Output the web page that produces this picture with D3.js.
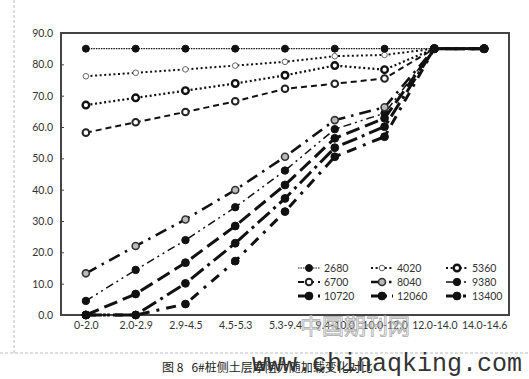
<!DOCTYPE html>
<html><head><meta charset="utf-8">
<script src="https://cdn.jsdelivr.net/npm/d3@7"></script>
<style>body{margin:0;background:#fff}svg{display:block}</style>
</head><body>
<script>
const categories = ["0-2.0","2.0-2.9","2.9-4.5","4.5-5.3","5.3-9.4","9.4-10.0","10.0-12.0","12.0-14.0","14.0-14.6"];
const seriesNames = ["2680","4020","5360","6700","8040","9380","10720","12060","13400"];
const s2680  = [85,85,85,85,85,85,85,85,85];
const s4020  = [76.2,77.3,78.4,79.6,80.8,82.6,83.0,85,85];
const s5360  = [67.0,69.3,71.6,73.9,76.5,79.6,78.3,85,85];
const s6700  = [58.2,61.5,64.8,68.2,72.2,73.8,75.5,85,85];
const s8040  = [13.3,22.0,30.5,39.9,50.5,62.2,66.3,85,85];
const s9380  = [4.5,14.4,23.9,34.4,46.1,59.3,64.4,85,85];
const s10720 = [0,6.7,16.7,28.4,41.5,56.4,62.8,85,85];
const s12060 = [0,0,10.1,22.9,37.2,53.4,60.1,85,85];
const s13400 = [0,0,3.5,17.2,33.0,50.5,56.9,85,85];
const yTicks = [0,10,20,30,40,50,60,70,80,90];
const caption = "图 8   6#桩侧土层摩阻力随加载变化对比";

const allSeries = [s2680,s4020,s5360,s6700,s8040,s9380,s10720,s12060,s13400];
const styles = [
  {w:1.2, dash:"1.5,1",      mk:{r:3.5, fill:"#111", stroke:"#111", sw:1}},
  {w:2,   dash:"2,2.6",      mk:{r:2.8, fill:"#fff", stroke:"#666", sw:1}},
  {w:2.2, dash:"2,2.6",      mk:{r:3.3, fill:"#fff", stroke:"#111", sw:2.4}},
  {w:2,   dash:"6,4",        mk:{r:3.3, fill:"#fff", stroke:"#222", sw:2}},
  {w:2.6, dash:"12,6,2.5,6", mk:{r:3.5, fill:"#bbb", stroke:"#333", sw:1.6}},
  {w:1.5, dash:"8,4,2,4,2,4",mk:{r:3.7, fill:"#111", stroke:"#111", sw:1}},
  {w:3,   dash:"14,6",       mk:{r:3.9, fill:"#111", stroke:"#111", sw:1}},
  {w:3,   dash:"16,5,3,5",   mk:{r:3.9, fill:"#111", stroke:"#111", sw:1}},
  {w:3,   dash:"10,7,3,7",   mk:{r:3.9, fill:"#111", stroke:"#111", sw:1}}
];

const W=529,H=379;
const svg=d3.select("body").append("svg").attr("width",W).attr("height",H);
const L=61,R=509,T=33,B=315;
const x=d3.scalePoint().domain(categories).range([L,R]).padding(0.5);
const y=d3.scaleLinear().domain([0,90]).range([B,T]);

// page decorations
svg.append("line").attr("x1",14).attr("x2",14).attr("y1",0).attr("y2",353)
  .attr("stroke","#bbb").attr("stroke-dasharray","3,2");
svg.append("line").attr("x1",0).attr("x2",W).attr("y1",353).attr("y2",353)
  .attr("stroke","#bbb").attr("stroke-dasharray","3,2");

// y axis
const ya=svg.append("g").attr("transform",`translate(${L},0)`)
  .call(d3.axisLeft(y).tickValues(yTicks).tickFormat(d3.format(".1f")).tickSize(-3).tickPadding(8));
ya.select(".domain").remove();
ya.selectAll("line").attr("stroke","#444");
ya.selectAll("text").attr("font-family","Lato, 'Liberation Sans', sans-serif").attr("font-size","10.5px").attr("fill","#333");

// x axis
const xa=svg.append("g").attr("transform",`translate(0,${B})`)
  .call(d3.axisBottom(x).tickSize(0).tickPadding(7));
xa.select(".domain").remove();
xa.selectAll("text").attr("font-family","Lato, 'Liberation Sans', sans-serif").attr("font-size","10.5px").attr("fill","#333");

// frame
svg.append("rect").attr("x",L).attr("y",T).attr("width",R-L).attr("height",B-T)
  .attr("fill","none").attr("stroke","#444").attr("stroke-width",2);

// series
const line=d3.line().x((d,i)=>x(categories[i])).y(d=>y(d));
const drawOrder=[8,7,6,5,4,3,2,1,0];
drawOrder.forEach(k=>{
  const st=styles[k], data=allSeries[k];
  svg.append("path").datum(data).attr("d",line).attr("fill","none")
    .attr("stroke","#111").attr("stroke-width",st.w).attr("stroke-dasharray",st.dash);
});
drawOrder.forEach(k=>{
  const st=styles[k], data=allSeries[k];
  svg.append("g").selectAll("circle").data(data).join("circle")
    .attr("cx",(d,i)=>x(categories[i])).attr("cy",d=>y(d)).attr("r",st.mk.r)
    .attr("fill",st.mk.fill).attr("stroke",st.mk.stroke).attr("stroke-width",st.mk.sw);
});

// legend
const colX=[298,371,446], rowY=[268,282,296];
seriesNames.forEach((n,k)=>{
  const cx=colX[k%3], cy=rowY[Math.floor(k/3)], st=styles[k];
  const g=svg.append("g");
  g.append("line").attr("x1",cx).attr("x2",cx+22).attr("y1",cy).attr("y2",cy)
    .attr("stroke","#111").attr("stroke-width",st.w).attr("stroke-dasharray",st.dash);
  g.append("circle").attr("cx",cx+11).attr("cy",cy).attr("r",st.mk.r)
    .attr("fill",st.mk.fill).attr("stroke",st.mk.stroke).attr("stroke-width",st.mk.sw);
  g.append("text").attr("x",cx+26).attr("y",cy+3.5).text(n)
    .attr("font-family","Lato, 'Liberation Sans', sans-serif").attr("font-size","10.5px").attr("fill","#333");
});

// watermark + caption
svg.append("text").attr("x",300).attr("y",334).text("中国期刊网")
  .attr("font-family","'Noto Sans CJK SC'").attr("font-size","22px")
  .attr("fill","none").attr("stroke","#aaa").attr("stroke-width",0.8);
svg.append("text").attr("x",162).attr("y",372).text(caption)
  .attr("font-family","'Noto Sans CJK SC'").attr("font-size","12px").attr("fill","#222")
  .attr("xml:space","preserve").style("white-space","pre");
svg.append("text").attr("x",252).attr("y",371).text("www.chinaqking.com")
  .attr("font-family","'Liberation Mono', monospace").attr("font-size","25px").attr("fill","#333");
</script>
</body></html>
